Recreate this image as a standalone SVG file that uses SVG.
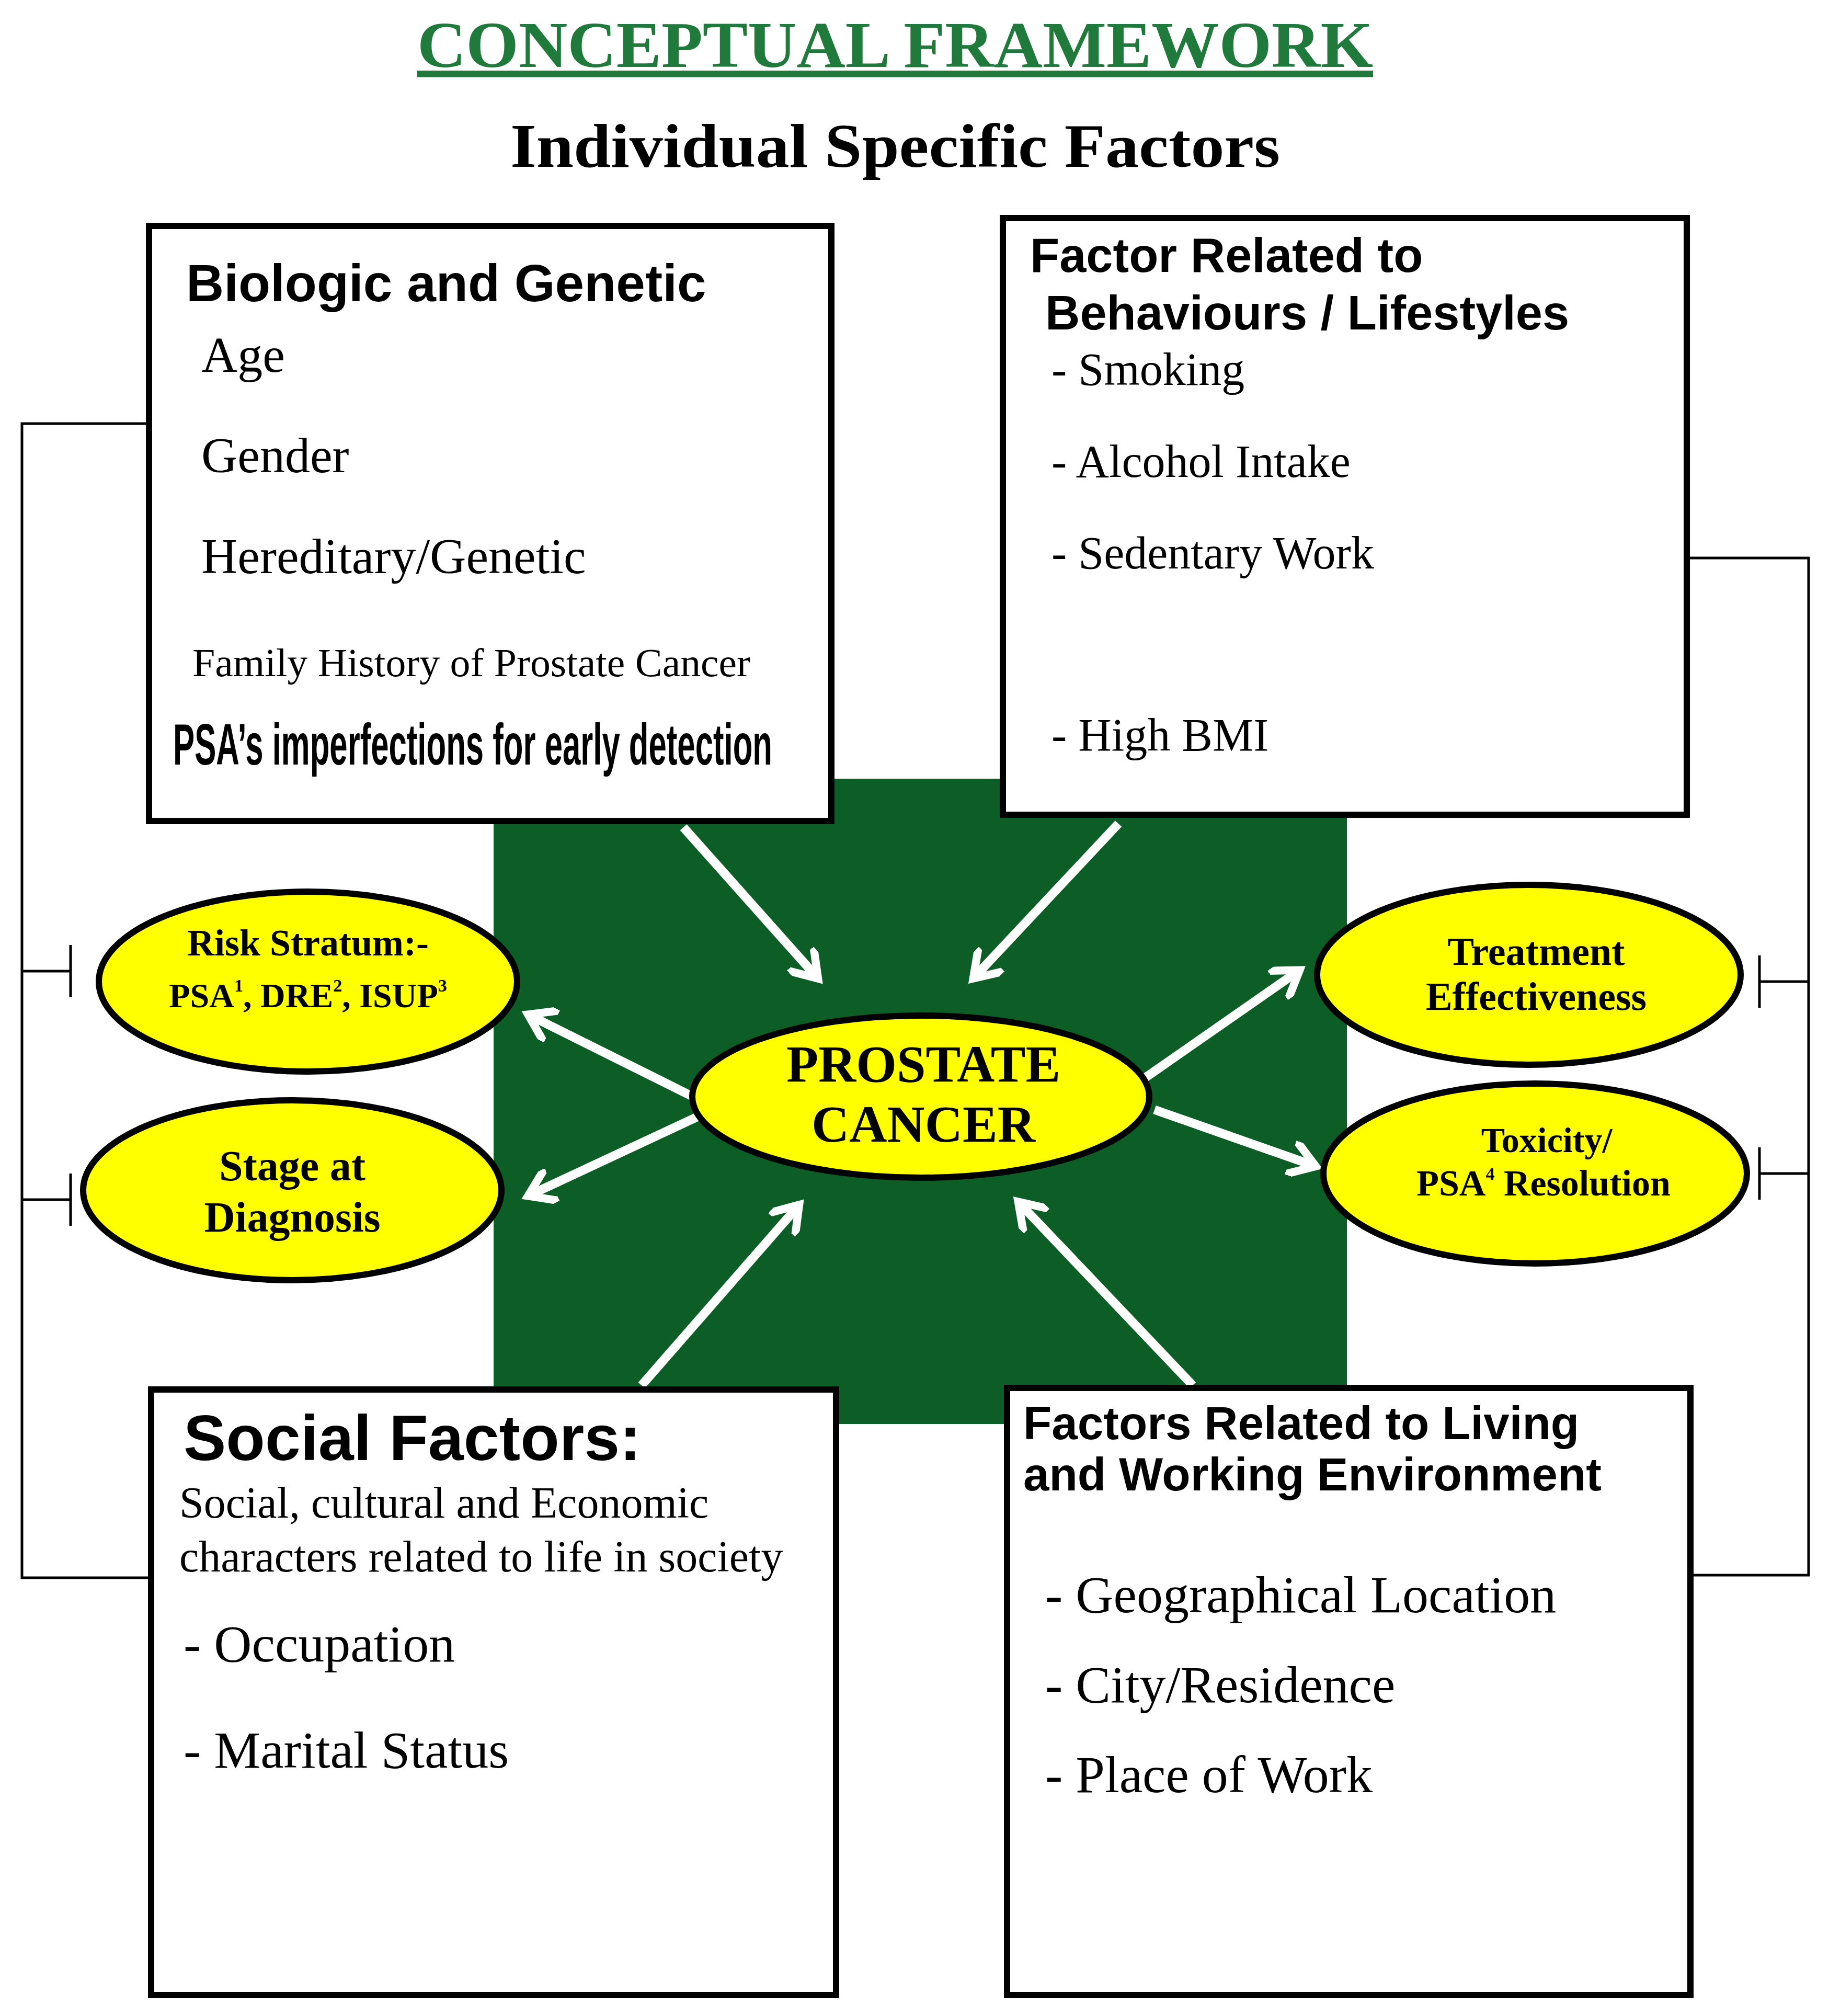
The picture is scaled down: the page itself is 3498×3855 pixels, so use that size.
<svg xmlns="http://www.w3.org/2000/svg" width="3498" height="3855" viewBox="0 0 3498 3855">
<style>
.box{fill:#fff;stroke:#000;stroke-width:12}
.ell{fill:#ffff00;stroke:#000;stroke-width:12}
.arr{stroke:#fff;stroke-width:17;fill:none;marker-end:url(#ah)}
.br{stroke:#000;stroke-width:5;fill:none}
.hs{font-family:"Liberation Sans",Arial,sans-serif;font-weight:bold;fill:#000}
.sr{font-family:"Liberation Serif","Times New Roman",serif;fill:#000}
.eb{font-family:"Liberation Serif","Times New Roman",serif;font-weight:bold;fill:#000;text-anchor:middle}
</style>
<defs>
<marker id="ah" markerWidth="4" markerHeight="4" refX="2.6" refY="2" orient="auto" markerUnits="strokeWidth">
<path d="M0,0 L3,2 L0,4" fill="none" stroke="#fff" stroke-width="0.9"/>
</marker>
</defs>
<rect width="3498" height="3855" fill="#fff"/>
<g id="title">
<text x="1712" y="128" text-anchor="middle" font-family="Liberation Serif,serif" font-weight="bold" font-size="125" fill="#1f7a3c" text-decoration="underline" textLength="1828" lengthAdjust="spacingAndGlyphs">CONCEPTUAL FRAMEWORK</text>
<text x="1712" y="319" text-anchor="middle" font-family="Liberation Serif,serif" font-weight="bold" font-size="118" fill="#000" textLength="1472" lengthAdjust="spacingAndGlyphs">Individual Specific Factors</text>
</g>
<g id="center-square"><rect x="944" y="1489" width="1632" height="1234" fill="#0d5e26"/></g>
<g id="connectors">
<line class="arr" x1="1307" y1="1582" x2="1560" y2="1866"/>
<line class="arr" x1="2139" y1="1575" x2="1866" y2="1866"/>
<line class="arr" x1="1325" y1="2097" x2="1016" y2="1943"/>
<line class="arr" x1="1337" y1="2134" x2="1016" y2="2284"/>
<line class="arr" x1="2190" y1="2061" x2="2480" y2="1859"/>
<line class="arr" x1="2208" y1="2122" x2="2510" y2="2228"/>
<line class="arr" x1="1227" y1="2649" x2="1524" y2="2309"/>
<line class="arr" x1="2281" y1="2649" x2="1952" y2="2303"/>
<polyline class="br" points="289,810 42,810 42,3017 289,3017"/>
<line class="br" x1="42" y1="1857" x2="135" y2="1857"/><line class="br" x1="135" y1="1807" x2="135" y2="1907"/>
<line class="br" x1="42" y1="2294" x2="135" y2="2294"/><line class="br" x1="135" y1="2244" x2="135" y2="2344"/>
<polyline class="br" points="3226,1067 3459,1067 3459,3012 3233,3012"/>
<line class="br" x1="3459" y1="1877" x2="3365" y2="1877"/><line class="br" x1="3365" y1="1827" x2="3365" y2="1927"/>
<line class="br" x1="3459" y1="2244" x2="3365" y2="2244"/><line class="br" x1="3365" y1="2194" x2="3365" y2="2294"/>
</g>
<g id="biologic">
<rect class="box" x="285" y="432" width="1305" height="1138"/>
<text class="hs" x="356" y="576" font-size="100">Biologic and Genetic</text>
<text class="sr" x="385" y="711" font-size="96">Age</text>
<text class="sr" x="385" y="903" font-size="96">Gender</text>
<text class="sr" x="385" y="1096" font-size="96">Hereditary/Genetic</text>
<text class="sr" x="368" y="1293" font-size="76" textLength="1067" lengthAdjust="spacingAndGlyphs">Family History of Prostate Cancer</text>
<text x="331" y="1462" font-family="Liberation Sans Narrow,Liberation Sans,sans-serif" font-weight="bold" font-size="112" textLength="1146" lengthAdjust="spacingAndGlyphs">PSA’s imperfections for early detection</text>
</g>
<g id="behaviours">
<rect class="box" x="1918" y="417" width="1308" height="1141"/>
<text class="hs" x="1970" y="520" font-size="92">Factor Related to</text>
<text class="hs" x="1999" y="630" font-size="92">Behaviours / Lifestyles</text>
<text class="sr" x="2011" y="736" font-size="88">- Smoking</text>
<text class="sr" x="2011" y="912" font-size="88">- Alcohol Intake</text>
<text class="sr" x="2011" y="1087" font-size="88">- Sedentary Work</text>
<text class="sr" x="2011" y="1435" font-size="88">- High BMI</text>
</g>
<g id="social">
<rect class="box" x="289" y="2657" width="1310" height="1158"/>
<text class="hs" x="351" y="2792" font-size="122">Social Factors:</text>
<text class="sr" x="343" y="2902" font-size="84">Social, cultural and Economic</text>
<text class="sr" x="343" y="3005" font-size="84">characters related to life in society</text>
<text class="sr" x="351" y="3177" font-size="100">- Occupation</text>
<text class="sr" x="351" y="3380" font-size="100">- Marital Status</text>
</g>
<g id="living">
<rect class="box" x="1926" y="2654" width="1307" height="1161"/>
<text class="hs" x="1957" y="2752" font-size="89">Factors Related to Living</text>
<text class="hs" x="1957" y="2850" font-size="89">and Working Environment</text>
<text class="sr" x="1999" y="3083" font-size="100">- Geographical Location</text>
<text class="sr" x="1999" y="3255" font-size="100">- City/Residence</text>
<text class="sr" x="1999" y="3427" font-size="100">- Place of Work</text>
</g>
<g id="risk">
<ellipse class="ell" cx="589" cy="1877" rx="400" ry="172"/>
<text class="eb" x="589" y="1827" font-size="72">Risk Stratum:-</text>
<text class="eb" x="589" y="1926" font-size="66">PSA<tspan font-size="34" dy="-30">1</tspan><tspan dy="30">, DRE</tspan><tspan font-size="34" dy="-30">2</tspan><tspan dy="30">, ISUP</tspan><tspan font-size="34" dy="-30">3</tspan></text>
</g>
<g id="stage">
<ellipse class="ell" cx="559" cy="2276" rx="400" ry="172"/>
<text class="eb" x="559" y="2257" font-size="82">Stage at</text>
<text class="eb" x="559" y="2355" font-size="82">Diagnosis</text>
</g>
<g id="prostate">
<ellipse class="ell" cx="1761" cy="2097" rx="437" ry="155"/>
<text class="eb" x="1766" y="2068" font-size="100">PROSTATE</text>
<text class="eb" x="1766" y="2183" font-size="100">CANCER</text>
</g>
<g id="treatment">
<ellipse class="ell" cx="2924" cy="1864" rx="405" ry="172"/>
<text class="eb" x="2938" y="1845" font-size="76">Treatment</text>
<text class="eb" x="2938" y="1931" font-size="76">Effectiveness</text>
</g>
<g id="toxicity">
<ellipse class="ell" cx="2936" cy="2244" rx="405" ry="172"/>
<text class="eb" x="2958" y="2203" font-size="68">Toxicity/</text>
<text class="eb" x="2952" y="2286" font-size="70">PSA<tspan font-size="34" dy="-30">4</tspan><tspan dy="30"> Resolution</tspan></text>
</g>
</svg>
